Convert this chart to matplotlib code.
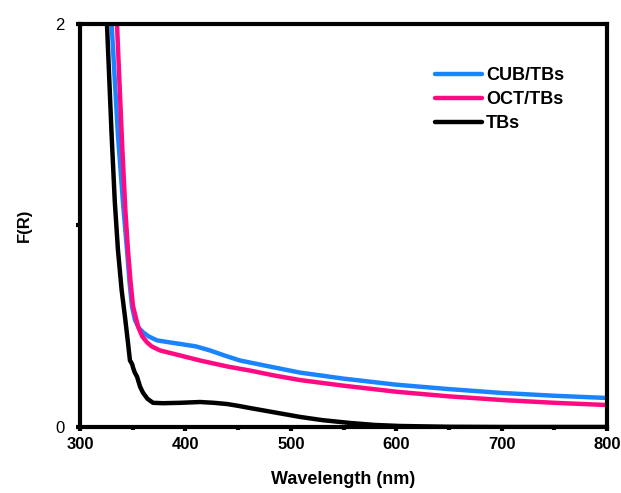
import matplotlib.pyplot as plt
from matplotlib.ticker import MultipleLocator

plt.rcParams['font.family'] = ['Liberation Sans', 'DejaVu Sans']

# F(R) spectra (wavelength in nm)
wl_cub = [326, 330, 336, 341, 344.6, 347, 349.3, 352.2, 356, 359.8, 365, 373, 385, 397.7, 410,
          423.3, 437, 451.8, 480, 508.7, 550, 600, 650, 700, 750, 800]
f_cub = [2.6, 2.0, 1.45, 1.1, 0.88, 0.72, 0.60, 0.53, 0.49, 0.47, 0.45, 0.43, 0.42, 0.41, 0.40,
         0.38, 0.355, 0.33, 0.30, 0.27, 0.24, 0.21, 0.188, 0.169, 0.155, 0.144]

wl_oct = [331, 335.1, 340, 343, 345.5, 348, 350.3, 355, 359, 363.6, 368, 375.9, 395, 413.9,
          440, 461.3, 485, 508.7, 550, 600, 650, 700, 750, 800]
f_oct = [2.6, 2.0, 1.4, 1.08, 0.88, 0.72, 0.60, 0.50, 0.45, 0.42, 0.40, 0.38, 0.355, 0.33,
         0.30, 0.28, 0.255, 0.233, 0.205, 0.175, 0.152, 0.134, 0.12, 0.109]

wl_tbs = [322, 325.6, 330, 333, 336, 339.5, 342.7, 345.5, 347.4, 348.6, 349.6, 350.3, 352,
          354.1, 357, 359.8, 364, 369.3, 378.7, 395, 413.9, 427, 439.5, 450, 461.3, 485, 508.7,
          530, 556, 580, 603.6, 650, 700, 800]
f_tbs = [2.6, 2.0, 1.45, 1.12, 0.88, 0.68, 0.546, 0.42, 0.33, 0.32, 0.31, 0.295, 0.27,
         0.25, 0.20, 0.17, 0.14, 0.12, 0.118, 0.12, 0.124, 0.12, 0.114, 0.105, 0.094, 0.072, 0.05,
         0.034, 0.02, 0.01, 0.005, 0.001, 0.0, 0.0]

x_ticks = [300, 400, 500, 600, 700, 800]
y_ticks = [0, 1, 2]
y_tick_labels = ['0', '', '2']

fig = plt.figure(figsize=(6.21, 4.93), dpi=100)
ax = fig.add_axes([0.1288, 0.1339, 0.8487, 0.8174])

ax.plot(wl_cub, f_cub, color='#1a84ff', lw=3.2, label='CUB/TBs', solid_capstyle='round')
ax.plot(wl_oct, f_oct, color='#ff0a82', lw=3.2, label='OCT/TBs', solid_capstyle='round')
ax.plot(wl_tbs, f_tbs, color='black', lw=3.2, label='TBs', solid_capstyle='round')

ax.set_xlim(300, 800)
ax.set_ylim(0, 2)
ax.set_xticks(x_ticks)
ax.set_xticklabels([str(v) for v in x_ticks], fontweight='bold', fontsize=12)
ax.xaxis.set_minor_locator(MultipleLocator(50))
ax.set_yticks(y_ticks)
ax.set_yticklabels(y_tick_labels, fontsize=12)

for s in ax.spines.values():
    s.set_linewidth(3)
ax.tick_params(which='major', direction='out', length=3, width=3)
ax.tick_params(axis='x', which='major', pad=4)
ax.tick_params(axis='y', which='major', pad=8)
ax.tick_params(which='minor', direction='out', length=2.5, width=3)

ax.set_xlabel('Wavelength (nm)', fontweight='bold', fontsize=13, labelpad=14)
ax.set_ylabel('F(R)', fontweight='bold', fontsize=12, labelpad=17)

leg = ax.legend(loc='upper right', bbox_to_anchor=(0.949, 0.933), frameon=False,
                prop={'weight': 'bold', 'size': 13}, handlelength=2.6,
                handletextpad=0.2, labelspacing=0.38)
for line in leg.get_lines():
    line.set_linewidth(3.2)

fig.savefig('out.png', dpi=100)
